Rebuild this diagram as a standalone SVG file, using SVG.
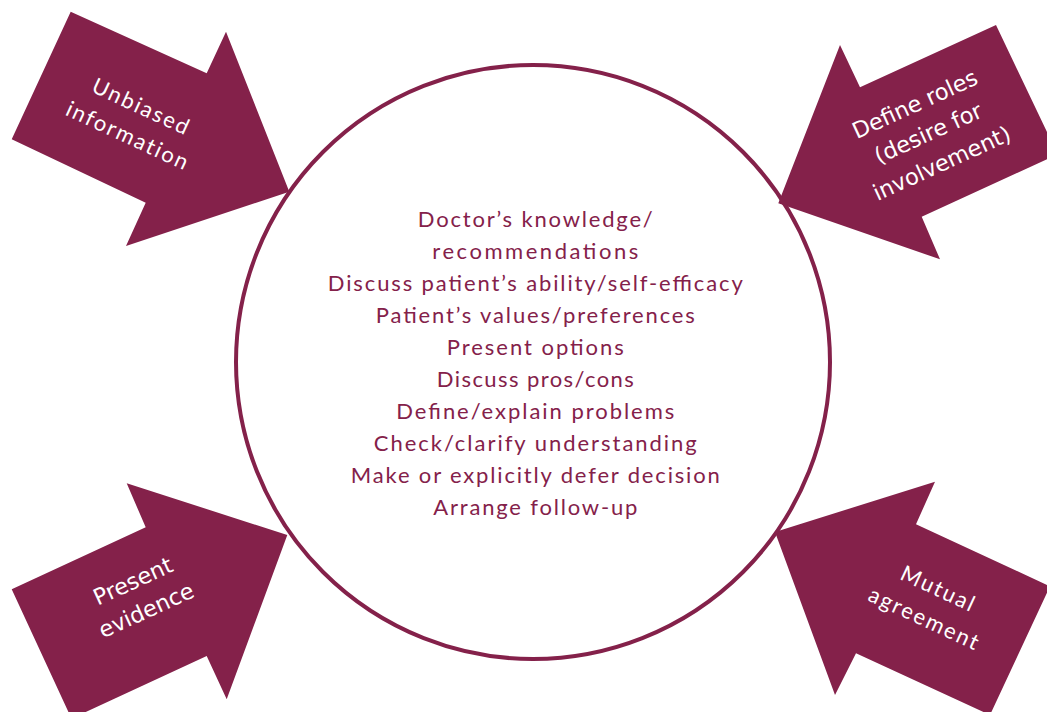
<svg xmlns="http://www.w3.org/2000/svg" width="1047" height="712" viewBox="0 0 1047 712">
<style>
.arrow{fill:#84214A;}
.ring{fill:none;stroke:#84214A;stroke-width:4;}
.c{font-family:Lato,"Noto Sans",sans-serif;font-size:22px;fill:#84214A;text-anchor:middle;}
.q{font-family:Lato,"Noto Sans",sans-serif;font-size:22px;fill:#ffffff;text-anchor:middle;letter-spacing:2px;}
.d{font-family:"DejaVu Sans",Verdana,sans-serif;font-size:22.5px;fill:#ffffff;text-anchor:middle;}
</style>
<rect width="1047" height="712" fill="#ffffff"/>
<g id="connectors"/>
<g id="arrow-unbiased">
<polygon class="arrow" points="70.7,11.7 206.7,73.3 226,31.7 289.3,191.7 126,246 145.7,202.7 11.7,139.3"/>
<g transform="translate(135,121) rotate(25)">
<text class="q" x="0" y="-8">Unbiased</text>
<text class="q" x="0" y="24">information</text>
</g>
</g>
<g id="arrow-roles">
<polygon class="arrow" points="996,25 1057.7,154.4 921.7,216.7 940,259.3 778.3,203.3 840,45 860,87.3"/>
<g transform="translate(928,133) rotate(-24.5)">
<text class="d" x="0" y="-24">Define roles</text>
<text class="d" x="0" y="8">(desire for</text>
<text class="d" x="0" y="41">involvement)</text>
</g>
</g>
<g id="arrow-evidence">
<polygon class="arrow" points="11.7,589.3 145.7,527.3 126.7,483.3 287.3,535 226.7,699.3 206.7,656 71.5,718.6"/>
<g transform="translate(139.5,595.5) rotate(-24.5)">
<text class="d" x="0" y="-8">Present</text>
<text class="d" x="0" y="24">evidence</text>
</g>
</g>
<g id="arrow-agreement">
<polygon class="arrow" points="1050,586.3 916,524.3 935,481.7 775,532 835,695 856,653.3 990,715"/>
<g transform="translate(932,603) rotate(25)">
<text class="q" x="0" y="-8">Mutual</text>
<text class="q" x="0" y="25">agreement</text>
</g>
</g>
<g id="center">
<circle class="ring" cx="533" cy="362" r="297"/>
<text class="c" x="535.3" y="227" textLength="235" lengthAdjust="spacing">Doctor’s knowledge/</text>
<text class="c" x="535.3" y="259" textLength="206" lengthAdjust="spacing">recommendations</text>
<text class="c" x="535.3" y="291" textLength="415" lengthAdjust="spacing">Discuss patient’s ability/self-efficacy</text>
<text class="c" x="535.3" y="323" textLength="319" lengthAdjust="spacing">Patient’s values/preferences</text>
<text class="c" x="535.3" y="355" textLength="177" lengthAdjust="spacing">Present options</text>
<text class="c" x="535.3" y="387" textLength="197" lengthAdjust="spacing">Discuss pros/cons</text>
<text class="c" x="535.3" y="419" textLength="278" lengthAdjust="spacing">Define/explain problems</text>
<text class="c" x="535.3" y="451" textLength="323" lengthAdjust="spacing">Check/clarify understanding</text>
<text class="c" x="535.3" y="483" textLength="369" lengthAdjust="spacing">Make or explicitly defer decision</text>
<text class="c" x="535.3" y="515" textLength="204" lengthAdjust="spacing">Arrange follow-up</text>
</g>
</svg>
